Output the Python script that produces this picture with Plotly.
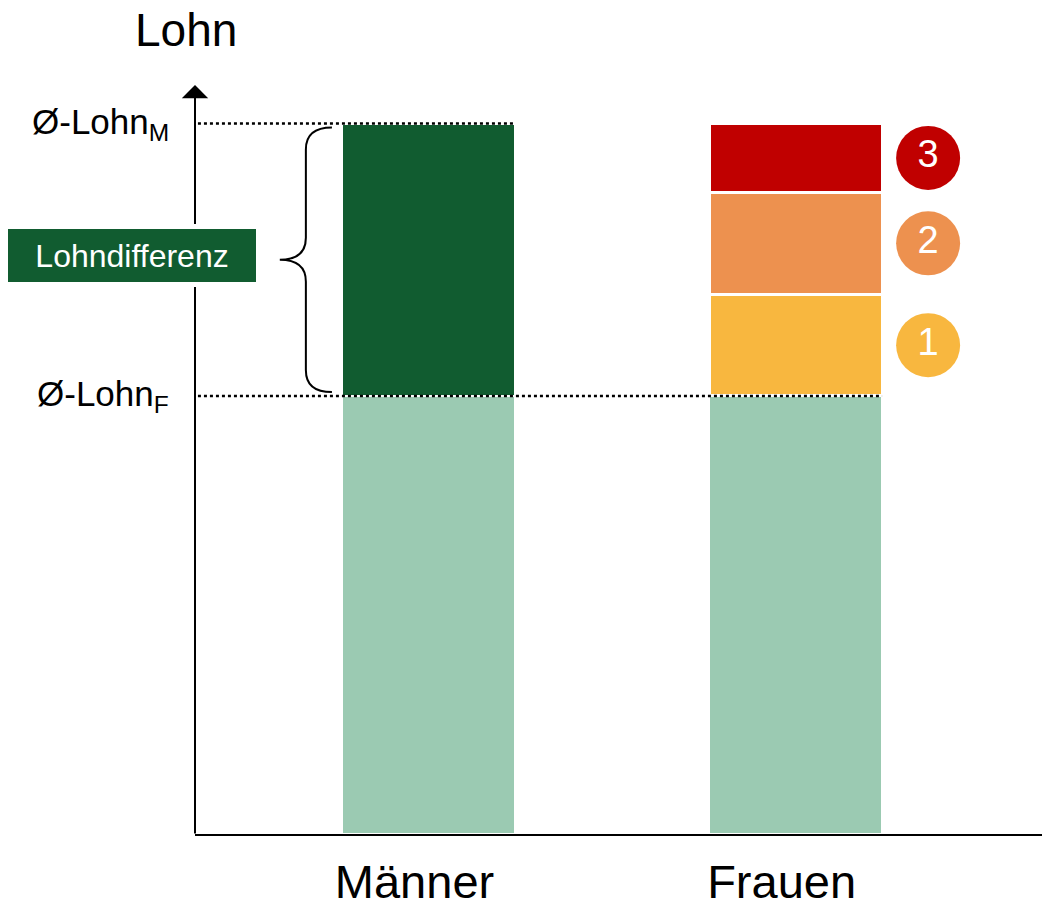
import plotly.graph_objects as go

# ---- data ----
categories = ["Männer", "Frauen"]
cat_pos = [0, 1]
lohn_f = 100.0          # Ø-Lohn Frauen
lohn_m = 162.2          # Ø-Lohn Männer
segments = [23.2, 23.3, 15.7]          # Anteile 1, 2, 3 (Frauen)
segment_labels = ["1", "2", "3"]
segment_colors = ["#F8B73F", "#ED914F", "#C00000"]

LIGHT_GREEN = "#9BCAB2"
DARK_GREEN = "#115C30"
FONT = "Liberation Sans, Arial, sans-serif"

X_RANGE = [-0.636, 1.693]
Y_RANGE = [0, 171.0]
BAR_W = 0.471

fig = go.Figure()

# base (light green)
fig.add_trace(go.Bar(
    x=cat_pos, y=[lohn_f, lohn_f], width=BAR_W,
    marker=dict(color=LIGHT_GREEN, line=dict(color="white", width=2)),
    hoverinfo="skip", showlegend=False))

# Männer difference
fig.add_trace(go.Bar(
    x=[cat_pos[0]], y=[lohn_m - lohn_f], width=BAR_W,
    marker=dict(color=DARK_GREEN, line=dict(color="white", width=2)),
    hoverinfo="skip", showlegend=False))

# Frauen segments
for val, col in zip(segments, segment_colors):
    fig.add_trace(go.Bar(
        x=[cat_pos[1]], y=[val], width=BAR_W,
        marker=dict(color=col, line=dict(color="white", width=3)),
        hoverinfo="skip", showlegend=False))

# numbered circles at segment midpoints
mids = []
cum = lohn_f
for v in segments:
    mids.append(cum + v / 2)
    cum += v
CIRCLE_X = 1.361
fig.add_trace(go.Scatter(
    x=[CIRCLE_X] * len(segments), y=mids, mode="markers+text",
    text=segment_labels, textposition="middle center",
    textfont=dict(family=FONT, size=38, color="white"),
    marker=dict(size=64, color=segment_colors, line=dict(width=0)),
    cliponaxis=False, hoverinfo="skip", showlegend=False))

# dotted reference lines
fig.add_shape(type="line", xref="x", yref="y", x0=X_RANGE[0] + 0.008, x1=0 + BAR_W / 2,
              y0=lohn_m, y1=lohn_m, line=dict(color="black", width=2.5, dash="dot"), layer="above")
fig.add_shape(type="line", xref="x", yref="y", x0=X_RANGE[0] + 0.008, x1=1 + BAR_W / 2,
              y0=lohn_f, y1=lohn_f, line=dict(color="black", width=2.5, dash="dot"), layer="above")

# curly brace
xe, xv, xt = -0.263, -0.334, -0.405
top = lohn_m - 0.9
bot = lohn_f + 0.9
mid = (lohn_m + lohn_f) / 2
r = 5.0
path = (f"M {xe},{top} Q {xv},{top} {xv},{top - r} "
        f"L {xv},{mid + r} Q {xv},{mid} {xt},{mid} "
        f"Q {xv},{mid} {xv},{mid - r} "
        f"L {xv},{bot + r} Q {xv},{bot} {xe},{bot}")
fig.add_shape(type="path", xref="x", yref="y", path=path,
              line=dict(color="black", width=2), layer="above")

# y-axis with arrow
fig.add_annotation(xref="paper", yref="y", x=0, y=Y_RANGE[1], text="",
                   showarrow=True, ax=0, ay=750, arrowhead=1, arrowsize=2.2,
                   arrowwidth=2, arrowcolor="black", standoff=0)

# Lohndifferenz box
fig.add_annotation(xref="paper", yref="y", x=(132 - 195) / 855, y=mid, yshift=4,
                   text="Lohndifferenz", showarrow=False,
                   font=dict(family=FONT, size=32, color="white"),
                   bgcolor=DARK_GREEN, bordercolor="white", borderwidth=5,
                   width=248, height=53, borderpad=0,
                   xanchor="center", yanchor="middle")

# Ø labels
for val, sub in [(lohn_m, "M"), (lohn_f, "F")]:
    fig.add_annotation(xref="paper", yref="y", x=(171 - 195) / 855, y=val,
                       text=f"Ø-Lohn<sub>{sub}</sub>", showarrow=False,
                       font=dict(family=FONT, size=35, color="black"),
                       xanchor="right", yanchor="middle")

# title "Lohn"
fig.add_annotation(xref="paper", yref="paper", x=(186 - 195) / 855, y=1.0734,
                   text="Lohn", showarrow=False,
                   font=dict(family=FONT, size=46, color="black"),
                   xanchor="center", yanchor="middle")

fig.update_layout(
    width=1050, height=900,
    margin=dict(l=187, r=8, t=77, b=74, autoexpand=False),
    barmode="stack",
    plot_bgcolor="white", paper_bgcolor="white",
    font=dict(family=FONT),
    xaxis=dict(range=X_RANGE, showline=True, linewidth=2, linecolor="black",
               showgrid=False, zeroline=False, ticks="", fixedrange=True,
               automargin=False,
               tickmode="array", tickvals=cat_pos, ticktext=categories,
               ticklabelstandoff=6, ticklabelshift=-14,
               tickfont=dict(family=FONT, size=47, color="black")),
    yaxis=dict(range=Y_RANGE, showline=False, showgrid=False, zeroline=False,
               automargin=False,
               showticklabels=False, ticks="", fixedrange=True),
)

fig.write_html("out.html")
